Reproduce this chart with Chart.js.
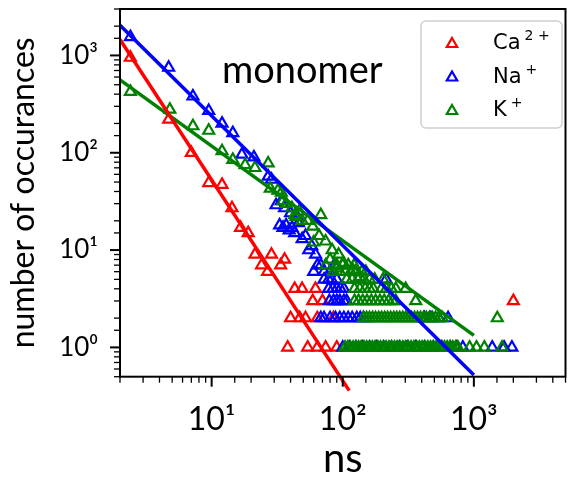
<!DOCTYPE html>
<html>
<head>
<meta charset="utf-8">
<script src="https://cdn.jsdelivr.net/npm/chart.js@4.4.1/dist/chart.umd.min.js"></script>
<style>
  html, body { margin: 0; padding: 0; background: #fff; }
  #wrap { width: 574px; height: 477px; position: relative; }
</style>
</head>
<body>
<div id="wrap"><canvas id="chart"></canvas></div>
<script>
// Event durations (ns) and how often they occur
const caPoints = [
    [2.4, 950], [4.7, 220], [7, 100], [9.5, 49], [12, 47], [14.3, 27], [16.6, 17], [19, 15],
    [21.4, 9], [24, 7], [26.7, 6], [28.6, 9], [33.6, 7], [36, 8],
    [43, 4], [49, 4], [62, 4], [59, 3], [70, 3],
    [40, 2], [47, 2], [52, 2], [64, 2], [85, 2],
    [38, 1], [54, 1], [64, 1], [74, 1], [90, 1], [2000, 3]
];
const naPoints = [
    [2.4, 1550], [4.7, 750], [7.2, 380], [9.5, 270], [12, 200], [14.5, 160], [17, 96], [21, 90],
    [27, 57], [28.6, 53], [31, 29], [34, 32], [36, 27], [40, 24], [45, 22],
    [33, 18], [35, 17], [37, 18], [39, 16], [41, 17], [43, 15], [46, 19], [49, 13], [52, 14],
    [55, 10], [58, 11], [62, 9], [60, 6], [64, 7], [68, 7], [72, 6], [80, 6], [86, 7],
    [72, 5], [78, 5], [82, 5], [90, 5], [214, 5],
    [78, 4], [84, 4], [90, 4], [96, 4], [102, 4],
    [79, 3], [85, 3], [90, 3], [95, 3], [102, 3], [107, 3],
    [68, 2], [72, 2], [80, 2], [88, 2], [95, 2], [102, 2], [110, 2], [118, 2], [128, 2],
    [136, 2], [144, 2], [420, 2], [470, 2], [540, 2], [636, 2],
    [100, 1], [112, 1], [126, 1], [142, 1], [160, 1], [180, 1], [205, 1], [235, 1], [270, 1],
    [310, 1], [360, 1], [420, 1], [490, 1], [570, 1], [660, 1], [740, 1], [823, 1],
    [1380, 1], [1700, 1], [1950, 1]
];
const kPoints = [
    [2.4, 424], [4.8, 278], [7.2, 188], [9.5, 169], [12, 104], [14.5, 85], [18, 75], [21.4, 70],
    [27, 78], [28, 43], [32, 41], [34, 39], [35, 32], [37, 30], [41, 27], [43, 23], [44, 22],
    [46.6, 25], [49, 20], [54, 20], [59, 17.5], [60, 12], [66, 14], [68, 23], [74, 12.3],
    [74, 7], [80, 8], [83, 10], [90, 6.5], [93, 9], [101, 7.4], [120, 6.2], [135, 5.3],
    [90, 7], [100, 7], [110, 7], [122, 7],
    [85, 6], [95, 6], [105, 6], [115, 6], [125, 6], [140, 6], [150, 6],
    [107, 5], [118, 5], [130, 5], [145, 5], [160, 5], [175, 5], [203, 5],
    [123, 4], [135, 4], [148, 4], [160, 4], [171, 4], [197, 4], [215, 4], [235, 4], [254, 4], [302, 4],
    [123, 3], [132, 3], [142, 3], [153, 3], [165, 3], [178, 3], [192, 3], [207, 3], [224, 3],
    [240, 3], [254, 3], [360, 3],
    [144, 2], [152, 2], [160, 2], [169, 2], [178, 2], [188, 2], [198, 2], [209, 2], [220, 2],
    [232, 2], [245, 2], [258, 2], [272, 2], [287, 2], [302, 2], [318, 2], [335, 2], [353, 2],
    [372, 2], [392, 2], [413, 2], [435, 2], [458, 2], [483, 2], [510, 2], [540, 2], [573, 2],
    [1510, 2],
    [104, 1], [109, 1], [114, 1], [120, 1], [126, 1], [132, 1], [138, 1], [145, 1], [152, 1],
    [160, 1], [168, 1], [176, 1], [185, 1], [194, 1], [204, 1], [214, 1], [225, 1], [236, 1],
    [248, 1], [260, 1], [273, 1], [287, 1], [301, 1], [316, 1], [332, 1], [349, 1], [366, 1],
    [384, 1], [403, 1], [423, 1], [445, 1], [467, 1], [490, 1], [515, 1], [540, 1], [567, 1],
    [596, 1], [626, 1], [657, 1], [690, 1], [725, 1], [755, 1], [928, 1], [1048, 1], [1202, 1],
    [1640, 1]
];

// Power-law fits, end points
const caFit = [[2, 1460], [112, 0.36]];
const naFit = [[2, 2040], [1000, 0.52]];
const kFit = [[2, 561], [1000, 1.33]];

const xTickValues = [10, 100, 1000];
const xTickLabels = ['10¹', '10²', '10³'];
const yTickValues = [1, 10, 100, 1000];
const yTickLabels = ['10⁰', '10¹', '10²', '10³'];

const legendItems = [
    { base: 'Ca', sup: '2 +', color: '#ff0000' },
    { base: 'Na', sup: '+', color: '#0000ff' },
    { base: 'K', sup: '+', color: '#008000' }
];

function toXY(arr) {
    return arr.map(p => ({ x: p[0], y: p[1] }));
}

function findTick(values, v) {
    return values.findIndex(t => Math.abs(v - t) / t < 1e-6);
}

function scatterSet(label, points, color, order) {
    return {
        type: 'scatter',
        label: label,
        data: toXY(points),
        pointStyle: 'triangle',
        pointRadius: 6.3,
        pointBorderWidth: 2.2,
        borderColor: color,
        backgroundColor: 'rgba(0,0,0,0)',
        order: order
    };
}

function fitSet(points, color) {
    return {
        type: 'line',
        data: toXY(points),
        borderColor: color,
        borderWidth: 3.5,
        pointRadius: 0,
        fill: false,
        clip: { left: 0, top: 0, right: 0, bottom: 20 },
        order: 0
    };
}

// keep the plot box fixed: no extra room for edge labels
function pinScale(s, size) {
    if (s.isHorizontal()) s.height = size; else s.width = size;
    s.paddingTop = 0;
    s.paddingBottom = 0;
    s.paddingLeft = 0;
    s.paddingRight = 0;
}

// Frame, tick marks, the "monomer" label and the legend box
const decorations = {
    id: 'decorations',
    afterDraw(chart) {
        const { ctx, chartArea: a, scales } = chart;
        ctx.save();
        ctx.strokeStyle = '#000';

        scales.x.ticks.forEach(t => {
            const px = scales.x.getPixelForValue(t.value);
            const major = findTick(xTickValues, t.value) >= 0;
            ctx.lineWidth = major ? 2 : 1.3;
            ctx.beginPath();
            ctx.moveTo(px, a.bottom);
            ctx.lineTo(px, a.bottom + (major ? 10 : 6));
            ctx.stroke();
        });
        scales.y.ticks.forEach(t => {
            const py = scales.y.getPixelForValue(t.value);
            const major = findTick(yTickValues, t.value) >= 0;
            ctx.lineWidth = major ? 2 : 1.3;
            ctx.beginPath();
            ctx.moveTo(a.left, py);
            ctx.lineTo(a.left - (major ? 10 : 6), py);
            ctx.stroke();
        });

        ctx.lineWidth = 2;
        ctx.strokeRect(a.left, a.top, a.right - a.left, a.bottom - a.top);

        ctx.fillStyle = '#000';
        ctx.font = '38px Lato';
        ctx.textBaseline = 'alphabetic';
        ctx.textAlign = 'left';
        ctx.fillText('monomer', 222, 83);

        // legend
        const lx = 421, ly = 21, lw = 141, lh = 107;
        ctx.beginPath();
        ctx.roundRect(lx, ly, lw, lh, 5);
        ctx.fillStyle = 'rgba(255,255,255,0.8)';
        ctx.fill();
        ctx.strokeStyle = '#d0d0d0';
        ctx.lineWidth = 1.5;
        ctx.stroke();

        legendItems.forEach((item, i) => {
            const cy = 44 + i * 33.5;
            const r = 6;
            ctx.beginPath();
            ctx.moveTo(452, cy - r);
            ctx.lineTo(452 + r * Math.sin(2 * Math.PI / 3), cy + r / 2);
            ctx.lineTo(452 - r * Math.sin(2 * Math.PI / 3), cy + r / 2);
            ctx.closePath();
            ctx.strokeStyle = item.color;
            ctx.lineWidth = 2.2;
            ctx.stroke();

            ctx.fillStyle = '#000';
            ctx.font = '21px "DejaVu Sans"';
            ctx.fillText(item.base, 493, cy + 5);
            const w = ctx.measureText(item.base).width;
            ctx.font = '14px "DejaVu Sans"';
            ctx.fillText(item.sup, 493 + w + 4, cy - 4);
        });

        ctx.restore();
    }
};

document.addEventListener('DOMContentLoaded', function() {
    const ctx = document.getElementById('chart');
    new Chart(ctx, {
        data: {
            datasets: [
                fitSet(caFit, '#ff0000'),
                fitSet(naFit, '#0000ff'),
                fitSet(kFit, '#008000'),
                scatterSet('K+', kPoints, '#008000', 1),
                scatterSet('Na+', naPoints, '#0000ff', 2),
                scatterSet('Ca2+', caPoints, '#ff0000', 3)
            ]
        },
        options: {
            responsive: true,
            maintainAspectRatio: false,
            animation: false,
            events: [],
            layout: { padding: { top: 9, right: 1.3, left: 0, bottom: 0 } },
            plugins: {
                legend: { display: false },
                tooltip: { enabled: false }
            },
            scales: {
                x: {
                    type: 'logarithmic',
                    position: 'bottom',
                    min: 2,
                    max: 5000,
                    grid: { display: false, drawTicks: false },
                    border: { display: false },
                    afterFit: s => pinScale(s, 100.3),
                    ticks: {
                        autoSkip: false,
                        maxRotation: 0,
                        padding: 24,
                        color: '#000',
                        font: { family: 'Lato', size: 32, lineHeight: 1.2 },
                        callback: v => {
                            const i = findTick(xTickValues, v);
                            return i >= 0 ? xTickLabels[i] : '';
                        }
                    },
                    title: {
                        display: true,
                        text: 'ns',
                        color: '#000',
                        font: { family: 'Lato', size: 40, lineHeight: 1 },
                        padding: { top: 0, bottom: -2 }
                    }
                },
                y: {
                    type: 'logarithmic',
                    min: 0.5,
                    max: 3000,
                    grid: { display: false, drawTicks: false },
                    border: { display: false },
                    afterFit: s => pinScale(s, 120),
                    ticks: {
                        autoSkip: false,
                        padding: 22,
                        color: '#000',
                        font: { family: 'Lato', size: 26 },
                        callback: v => {
                            const i = findTick(yTickValues, v);
                            return i >= 0 ? yTickLabels[i] : '';
                        }
                    },
                    title: {
                        display: true,
                        text: 'number of occurances',
                        color: '#000',
                        font: { family: 'Lato', size: 32, lineHeight: 1 },
                        padding: { top: 8, bottom: 0 }
                    }
                }
            }
        },
        plugins: [decorations]
    });
});
</script>
</body>
</html>
